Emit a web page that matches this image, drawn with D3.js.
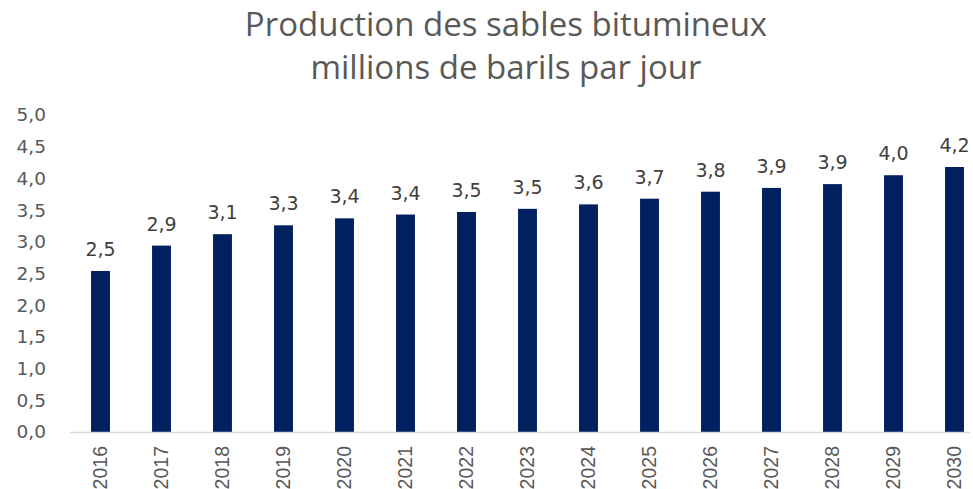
<!DOCTYPE html>
<html>
<head>
<meta charset="utf-8">
<script src="https://cdn.jsdelivr.net/npm/d3@7"></script>
<style>
  body { margin: 0; background: #fff; }
  svg { display: block; }
</style>
</head>
<body>
<div id="chart"></div>
<script>
const years = ['2016', '2017', '2018', '2019', '2020', '2021', '2022', '2023',
  '2024', '2025', '2026', '2027', '2028', '2029', '2030']
const production = [2.54, 2.94, 3.12, 3.26, 3.37, 3.43, 3.47, 3.52,
  3.59, 3.68, 3.79, 3.85, 3.91, 4.05, 4.18]
const yTicks = [0, 0.5, 1, 1.5, 2, 2.5, 3, 3.5, 4, 4.5, 5]
const titleLines = ['Production des sables bitumineux', 'millions de barils par jour']

const w = 973, h = 489
const fmt = v => d3.format('.1f')(v).replace('.', ',')

const svg = d3.select('#chart')
  .append('svg')
  .attr('width', w)
  .attr('height', h)

const x = d3.scaleBand()
  .domain(years)
  .range([70, 985])
  .paddingInner(0.69)
  .paddingOuter(0.345)

const y = d3.scaleLinear()
  .domain([0, 5])
  .range([432, 115])

// title
svg.append('g')
  .selectAll('text')
  .data(titleLines)
  .enter()
  .append('text')
    .attr('x', 506)
    .attr('y', (d, i) => 36 + i * 43)
    .attr('text-anchor', 'middle')
    .attr('font-family', 'Open Sans, sans-serif')
    .attr('font-size', 33)
    .attr('fill', '#595959')
    .text(d => d)

// y axis labels
const yAxis = d3.axisLeft(y)
  .tickValues(yTicks)
  .tickFormat(fmt)
  .tickSize(0)
  .tickPadding(0)

svg.append('g')
  .attr('transform', 'translate(46,0)')
  .call(yAxis)
  .call(g => g.select('.domain').remove())
  .call(g => g.selectAll('text')
    .attr('font-family', 'DejaVu Sans, sans-serif')
    .attr('font-size', 18.5)
    .attr('fill', '#595959'))

// bars
svg.append('g')
  .selectAll('rect')
  .data(production)
  .enter()
  .append('rect')
    .attr('x', (d, i) => x(years[i]))
    .attr('y', d => y(d))
    .attr('width', x.bandwidth())
    .attr('height', d => y(0) - y(d))
    .attr('fill', '#002060')

// value labels
svg.append('g')
  .selectAll('text')
  .data(production)
  .enter()
  .append('text')
    .attr('x', (d, i) => x(years[i]) + x.bandwidth() / 2)
    .attr('y', d => y(d) - 15)
    .attr('text-anchor', 'middle')
    .attr('font-family', 'DejaVu Sans, sans-serif')
    .attr('font-size', 19)
    .attr('fill', '#404040')
    .text(d => fmt(d))

// x axis
const xAxis = d3.axisBottom(x)
  .tickSize(0)
  .tickPadding(0)

svg.append('g')
  .attr('transform', 'translate(0,' + y(0) + ')')
  .call(xAxis)
  .call(g => g.select('.domain')
    .attr('stroke', '#d9d9d9')
    .attr('stroke-width', 1.5)
    .attr('d', 'M70,0.5H970'))
  .call(g => g.selectAll('text')
    .attr('transform', 'rotate(-90)')
    .attr('text-anchor', 'end')
    .attr('dy', '0.35em')
    .attr('x', -14)
    .attr('y', 0)
    .attr('font-family', 'Liberation Sans, Arial, sans-serif')
    .attr('font-size', 19.5)
    .attr('fill', '#595959'))
</script>
</body>
</html>
